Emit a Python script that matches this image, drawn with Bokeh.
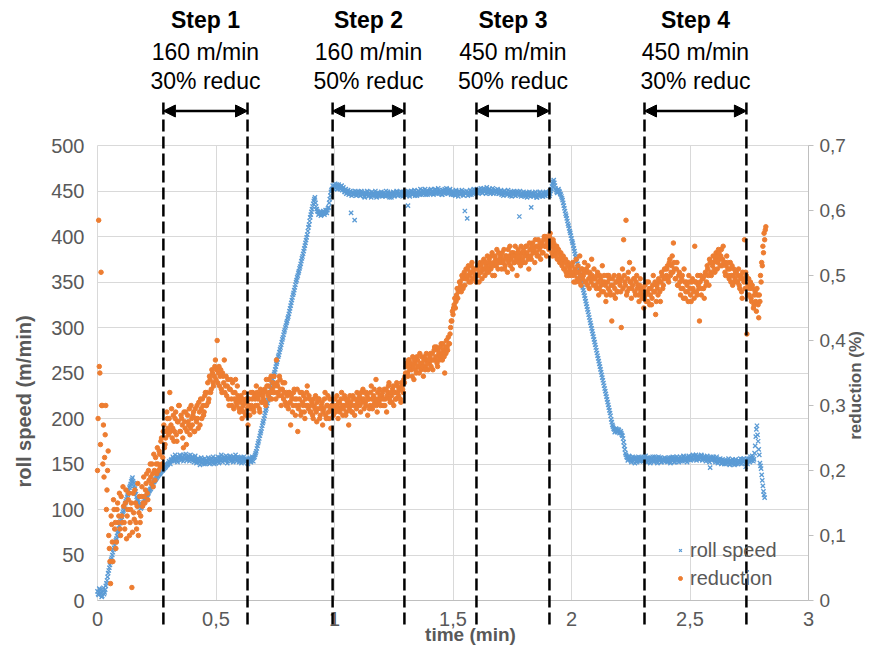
import numpy as np
from bokeh.plotting import figure
from bokeh.models import (Range1d, LinearAxis, FixedTicker, CustomJSTickFormatter,
                          Label, Arrow, NormalHead, Legend, LegendItem)
from bokeh.embed import file_html
from bokeh.resources import INLINE

DT = 0.005  # sampling interval of the recorded signals (min); second channel is offset by DT/2

roll_speed = [
    10, 6, 12, 8, 5, 14, 9, 16, 22, 30, 36, 42, 47, 53, 58, 64, 68, 74, 79, 85,
    89, 95, 99, 104, 109, 114, 118, 124, 128, 133, 131, 126, 120, 114, 110, 106, 104, 102, 105, 108,
    111, 113, 116, 118, 121, 123, 126, 128, 131, 133, 135, 137, 139, 140, 142, 143, 145, 146, 148, 149,
    151, 152, 154, 153, 156, 155, 157, 154, 158, 156, 159, 155, 157, 160, 156, 158, 155, 159, 157, 156,
    158, 154, 157, 155, 153, 156, 152, 154, 151, 155, 153, 150, 154, 152, 155, 151, 153, 156, 152, 154,
    151, 155, 153, 157, 154, 156, 155, 158, 156, 154, 157, 155, 159, 156, 154, 158, 155, 157, 154, 156,
    155, 153, 157, 154, 156, 152, 155, 150, 153, 155, 154, 156, 157, 160, 164, 170, 175, 181, 186, 192,
    197, 203, 209, 214, 220, 226, 232, 238, 243, 249, 254, 260, 265, 270, 276, 281, 287, 292, 297, 302,
    307, 312, 318, 324, 330, 336, 341, 347, 352, 357, 362, 367, 373, 378, 384, 390, 396, 402, 410, 417,
    424, 430, 436, 441, 437, 430, 427, 425, 426, 424, 425, 427, 426, 428, 429, 432, 441, 449, 452, 455,
    456, 453, 457, 454, 455, 452, 456, 453, 451, 449, 447, 450, 446, 449, 426, 448, 446, 418, 447, 449,
    446, 448, 445, 449, 447, 444, 448, 446, 449, 445, 447, 443, 446, 448, 445, 447, 444, 446, 448, 445,
    447, 445, 448, 444, 446, 449, 445, 447, 443, 446, 448, 445, 447, 449, 446, 448, 445, 447, 449, 446,
    448, 446, 434, 449, 447, 450, 446, 448, 445, 449, 447, 450, 446, 448, 451, 447, 449, 446, 450, 448,
    449, 451, 447, 450, 448, 452, 449, 447, 451, 448, 450, 446, 449, 452, 448, 450, 447, 451, 449, 448,
    446, 448, 445, 449, 447, 450, 446, 448, 449, 445, 428, 447, 420, 449, 446, 448, 450, 447, 449, 451,
    448, 450, 452, 449, 451, 448, 453, 450, 447, 451, 449, 452, 448, 450, 447, 449, 451, 448, 450, 447,
    449, 446, 448, 450, 447, 449, 446, 448, 445, 447, 449, 446, 448, 445, 447, 449, 422, 446, 448, 445,
    447, 444, 446, 448, 445, 447, 432, 446, 444, 447, 445, 443, 446, 448, 445, 447, 444, 446, 448, 447,
    446, 449, 447, 452, 458, 462, 456, 451, 448, 452, 449, 446, 442, 437, 431, 425, 420, 414, 409, 404,
    398, 393, 387, 381, 376, 370, 364, 358, 352, 347, 341, 335, 329, 323, 317, 311, 305, 299, 293, 287,
    281, 275, 269, 263, 257, 251, 245, 239, 233, 227, 221, 215, 209, 203, 196, 191, 188, 186, 188, 186,
    187, 185, 184, 181, 174, 166, 160, 157, 155, 158, 154, 156, 153, 157, 155, 152, 156, 154, 157, 153,
    155, 158, 154, 156, 152, 155, 157, 153, 156, 154, 158, 155, 153, 156, 154, 157, 152, 155, 153, 156,
    154, 152, 155, 153, 157, 154, 156, 152, 155, 158, 154, 156, 153, 157, 155, 158, 156, 154, 157, 159,
    156, 158, 155, 159, 157, 160, 156, 158, 155, 157, 159, 156, 158, 155, 157, 154, 156, 146, 158, 155,
    157, 154, 156, 153, 155, 152, 154, 151, 153, 150, 152, 154, 151, 153, 150, 152, 155, 151, 153, 150,
    152, 154, 151, 153, 155, 152, 154, 147, 156, 153, 155, 158, 154, 157, 155, 170, 188, 182, 166, 151,
    145, 132, 120, 113,
]

roll_speed_b = [
    7, 13, 9, 4, 11, 7, 12, 19, 26, 33, 39, 45, 50, 56, 61, 66, 71, 76, 82, 87,
    92, 97, 102, 107, 111, 116, 121, 126, 131, 135, 129, 123, 117, 112, 108, 103, 101, 104, 106, 110,
    112, 115, 117, 120, 122, 125, 127, 130, 132, 134, 136, 138, 139, 141, 143, 144, 146, 147, 149, 150,
    153, 150, 155, 158, 153, 160, 155, 152, 157, 160, 154, 158, 153, 156, 161, 154, 157, 153, 160, 155,
    155, 152, 159, 151, 156, 153, 149, 157, 154, 150, 156, 153, 151, 157, 150, 155, 152, 158, 150, 156,
    153, 158, 151, 155, 160, 152, 157, 154, 159, 151, 156, 158, 153, 157, 152, 156, 160, 153, 158, 152,
    157, 151, 155, 158, 153, 156, 151, 154, 157, 152, 158, 153, 158, 162, 167, 173, 178, 184, 189, 195,
    200, 206, 211, 217, 223, 229, 235, 240, 246, 251, 257, 262, 268, 273, 278, 284, 289, 295, 300, 305,
    310, 315, 321, 327, 333, 338, 344, 350, 355, 360, 365, 370, 376, 381, 387, 393, 399, 406, 413, 421,
    427, 433, 439, 443, 433, 428, 424, 427, 423, 426, 428, 424, 429, 426, 431, 437, 445, 451, 456, 452,
    458, 455, 452, 457, 453, 455, 451, 454, 449, 452, 448, 451, 447, 450, 445, 449, 447, 450, 445, 448,
    449, 445, 450, 446, 448, 443, 447, 450, 444, 448, 446, 449, 445, 447, 450, 443, 448, 445, 447, 449,
    444, 448, 446, 450, 445, 447, 443, 448, 446, 449, 444, 447, 450, 445, 448, 446, 449, 444, 447, 450,
    445, 449, 447, 444, 450, 446, 449, 451, 447, 445, 450, 448, 452, 446, 449, 447, 452, 448, 446, 450,
    447, 452, 449, 446, 451, 448, 450, 453, 447, 450, 446, 451, 448, 450, 453, 447, 449, 452, 446, 450,
    449, 446, 451, 448, 444, 449, 447, 451, 446, 449, 447, 450, 445, 448, 451, 446, 449, 452, 448, 450,
    451, 447, 449, 453, 448, 452, 449, 451, 454, 448, 452, 447, 450, 453, 449, 451, 448, 452, 447, 449,
    451, 448, 445, 450, 448, 446, 451, 447, 449, 444, 448, 450, 445, 449, 446, 448, 450, 444, 447, 449,
    446, 448, 443, 447, 449, 444, 448, 445, 447, 449, 443, 447, 445, 449, 446, 444, 448, 445, 449, 446,
    448, 445, 450, 455, 460, 459, 453, 449, 451, 450, 447, 444, 440, 434, 428, 423, 417, 412, 406, 401,
    395, 390, 384, 378, 373, 367, 361, 355, 350, 344, 338, 332, 326, 320, 314, 308, 302, 296, 290, 284,
    278, 272, 266, 260, 254, 248, 242, 236, 230, 224, 218, 212, 206, 199, 193, 189, 185, 189, 185, 188,
    184, 186, 182, 178, 170, 162, 158, 154, 159, 156, 152, 158, 155, 151, 157, 154, 158, 153, 155, 157,
    153, 156, 159, 152, 157, 154, 151, 156, 158, 152, 155, 157, 151, 158, 155, 152, 156, 154, 157, 153,
    156, 153, 157, 151, 155, 158, 152, 157, 154, 156, 152, 158, 155, 153, 159, 154, 157, 152, 155, 158,
    154, 157, 160, 155, 158, 154, 159, 155, 157, 160, 154, 158, 156, 153, 159, 155, 152, 157, 154, 158,
    155, 152, 158, 151, 154, 156, 150, 155, 152, 154, 150, 153, 156, 149, 154, 151, 153, 149, 155, 152,
    150, 153, 156, 150, 153, 156, 151, 153, 150, 156, 152, 154, 159, 153, 162, 180, 192, 175, 160, 148,
    138, 126, 116,
]

reduction = [
    0.20, 0.585, 0.35, 0.505, 0.30, 0.27, 0.22, 0.30, 0.17, 0.23, 0.08, 0.026, 0.117, 0.06, 0.14, 0.12, 0.09, 0.15, 0.13, 0.11,
    0.16, 0.12, 0.145, 0.11, 0.17, 0.13, 0.155, 0.10, 0.14, 0.02, 0.165, 0.125, 0.15, 0.11, 0.18, 0.135, 0.12, 0.16, 0.145, 0.19,
    0.15, 0.18, 0.165, 0.20, 0.14, 0.19, 0.21, 0.175, 0.20, 0.22, 0.195, 0.21, 0.23, 0.205, 0.25, 0.22, 0.27, 0.24, 0.26, 0.28,
    0.255, 0.32, 0.27, 0.25, 0.285, 0.26, 0.29, 0.245, 0.275, 0.30, 0.26, 0.28, 0.25, 0.29, 0.265, 0.24, 0.285, 0.27, 0.255, 0.30,
    0.27, 0.29, 0.26, 0.28, 0.30, 0.265, 0.29, 0.31, 0.28, 0.30, 0.29, 0.32, 0.30, 0.335, 0.31, 0.34, 0.325, 0.35, 0.33, 0.36,
    0.34, 0.40, 0.35, 0.33, 0.355, 0.32, 0.345, 0.37, 0.33, 0.315, 0.34, 0.30, 0.325, 0.31, 0.335, 0.295, 0.32, 0.305, 0.33, 0.31,
    0.29, 0.315, 0.28, 0.30, 0.32, 0.285, 0.305, 0.27, 0.31, 0.295, 0.30, 0.32, 0.29, 0.31, 0.33, 0.30, 0.315, 0.29, 0.32, 0.305,
    0.31, 0.325, 0.30, 0.33, 0.315, 0.34, 0.32, 0.31, 0.335, 0.345, 0.32, 0.37, 0.33, 0.315, 0.34, 0.30, 0.325, 0.31, 0.335, 0.30,
    0.315, 0.295, 0.32, 0.27, 0.31, 0.30, 0.325, 0.285, 0.31, 0.26, 0.30, 0.32, 0.29, 0.305, 0.315, 0.28, 0.30, 0.33, 0.295, 0.31,
    0.29, 0.305, 0.28, 0.30, 0.315, 0.275, 0.295, 0.31, 0.285, 0.30, 0.27, 0.295, 0.32, 0.28, 0.30, 0.29, 0.31, 0.265, 0.30, 0.285,
    0.30, 0.29, 0.315, 0.28, 0.305, 0.295, 0.32, 0.285, 0.30, 0.31, 0.29, 0.305, 0.27, 0.315, 0.30, 0.29, 0.31, 0.285, 0.30, 0.32,
    0.30, 0.315, 0.29, 0.31, 0.325, 0.295, 0.305, 0.32, 0.285, 0.31, 0.30, 0.33, 0.295, 0.315, 0.305, 0.34, 0.29, 0.31, 0.325, 0.30,
    0.315, 0.30, 0.325, 0.31, 0.29, 0.32, 0.335, 0.305, 0.315, 0.325, 0.30, 0.32, 0.31, 0.33, 0.315, 0.325, 0.305, 0.33, 0.32, 0.335,
    0.35, 0.365, 0.345, 0.37, 0.36, 0.355, 0.375, 0.34, 0.365, 0.35, 0.37, 0.36, 0.38, 0.355, 0.365, 0.345, 0.375, 0.36, 0.37, 0.355,
    0.365, 0.38, 0.37, 0.355, 0.385, 0.37, 0.39, 0.36, 0.38, 0.375, 0.395, 0.37, 0.385, 0.35, 0.38, 0.39, 0.405, 0.395, 0.42, 0.43,
    0.44, 0.455, 0.45, 0.47, 0.465, 0.48, 0.49, 0.475, 0.495, 0.50, 0.485, 0.51, 0.495, 0.515, 0.50, 0.49, 0.52, 0.505, 0.495, 0.51,
    0.50, 0.515, 0.49, 0.52, 0.505, 0.51, 0.525, 0.50, 0.515, 0.53, 0.505, 0.52, 0.51, 0.535, 0.515, 0.50, 0.525, 0.54, 0.51, 0.52,
    0.53, 0.51, 0.525, 0.54, 0.515, 0.53, 0.505, 0.52, 0.545, 0.525, 0.51, 0.535, 0.52, 0.53, 0.50, 0.54, 0.525, 0.515, 0.535, 0.52,
    0.535, 0.52, 0.545, 0.53, 0.51, 0.54, 0.525, 0.55, 0.535, 0.52, 0.545, 0.53, 0.555, 0.54, 0.525, 0.55, 0.535, 0.56, 0.545, 0.53,
    0.555, 0.54, 0.565, 0.545, 0.53, 0.55, 0.535, 0.545, 0.525, 0.54, 0.52, 0.535, 0.515, 0.53, 0.51, 0.525, 0.50, 0.52, 0.505, 0.515,
    0.50, 0.52, 0.49, 0.51, 0.525, 0.495, 0.505, 0.53, 0.485, 0.51, 0.50, 0.52, 0.49, 0.505, 0.515, 0.48, 0.50, 0.525, 0.495, 0.51,
    0.495, 0.48, 0.505, 0.47, 0.50, 0.485, 0.515, 0.475, 0.49, 0.46, 0.50, 0.48, 0.495, 0.47, 0.43, 0.485, 0.50, 0.465, 0.49, 0.475,
    0.50, 0.485, 0.42, 0.51, 0.555, 0.49, 0.585, 0.475, 0.505, 0.52, 0.49, 0.48, 0.51, 0.495, 0.47, 0.50, 0.485, 0.46, 0.495, 0.48,
    0.47, 0.45, 0.485, 0.46, 0.475, 0.49, 0.455, 0.48, 0.465, 0.50, 0.475, 0.44, 0.485, 0.47, 0.49, 0.46, 0.505, 0.48, 0.495, 0.51,
    0.50, 0.515, 0.49, 0.525, 0.505, 0.53, 0.55, 0.51, 0.495, 0.52, 0.485, 0.505, 0.47, 0.495, 0.48, 0.51, 0.465, 0.49, 0.475, 0.50,
    0.48, 0.46, 0.495, 0.475, 0.545, 0.49, 0.47, 0.485, 0.43, 0.50, 0.48, 0.495, 0.465, 0.505, 0.49, 0.51, 0.485, 0.52, 0.50, 0.515,
    0.52, 0.505, 0.535, 0.51, 0.54, 0.525, 0.53, 0.515, 0.545, 0.52, 0.50, 0.53, 0.51, 0.495, 0.52, 0.50, 0.485, 0.51, 0.495, 0.505,
    0.49, 0.51, 0.48, 0.50, 0.465, 0.495, 0.555, 0.505, 0.41, 0.485, 0.47, 0.49, 0.46, 0.48, 0.455, 0.475, 0.445, 0.47, 0.435, 0.46,
    0.49, 0.515, 0.535, 0.555, 0.575,
]

reduction_b = [
    0.28, 0.36, 0.24, 0.30, 0.21, 0.19, 0.255, 0.14, 0.20, 0.10, 0.06, 0.13, 0.09, 0.155, 0.11, 0.08, 0.14, 0.12, 0.165, 0.10,
    0.13, 0.175, 0.12, 0.15, 0.095, 0.14, 0.165, 0.12, 0.15, 0.105, 0.135, 0.17, 0.12, 0.145, 0.10, 0.16, 0.13, 0.175, 0.15, 0.16,
    0.17, 0.195, 0.155, 0.185, 0.21, 0.18, 0.195, 0.225, 0.185, 0.21, 0.235, 0.20, 0.225, 0.245, 0.21, 0.26, 0.235, 0.25, 0.29, 0.265,
    0.28, 0.26, 0.295, 0.265, 0.245, 0.28, 0.255, 0.275, 0.30, 0.26, 0.285, 0.27, 0.235, 0.275, 0.29, 0.26, 0.275, 0.295, 0.265, 0.28,
    0.285, 0.26, 0.295, 0.275, 0.28, 0.305, 0.27, 0.295, 0.31, 0.285, 0.315, 0.30, 0.32, 0.305, 0.345, 0.32, 0.355, 0.335, 0.345, 0.37,
    0.355, 0.335, 0.36, 0.345, 0.325, 0.35, 0.335, 0.32, 0.345, 0.33, 0.31, 0.325, 0.34, 0.30, 0.32, 0.31, 0.34, 0.30, 0.315, 0.295,
    0.305, 0.295, 0.31, 0.29, 0.305, 0.31, 0.295, 0.30, 0.285, 0.32, 0.31, 0.295, 0.315, 0.30, 0.32, 0.31, 0.295, 0.325, 0.305, 0.315,
    0.32, 0.305, 0.34, 0.32, 0.33, 0.31, 0.345, 0.325, 0.32, 0.33, 0.31, 0.335, 0.32, 0.345, 0.325, 0.315, 0.335, 0.32, 0.305, 0.32,
    0.30, 0.32, 0.305, 0.315, 0.29, 0.32, 0.31, 0.30, 0.325, 0.295, 0.31, 0.285, 0.32, 0.30, 0.29, 0.31, 0.32, 0.30, 0.315, 0.29,
    0.30, 0.285, 0.31, 0.295, 0.29, 0.305, 0.31, 0.28, 0.295, 0.305, 0.29, 0.31, 0.285, 0.30, 0.315, 0.28, 0.295, 0.30, 0.31, 0.29,
    0.31, 0.295, 0.30, 0.305, 0.29, 0.31, 0.30, 0.295, 0.315, 0.285, 0.30, 0.31, 0.295, 0.305, 0.29, 0.315, 0.30, 0.31, 0.295, 0.305,
    0.31, 0.30, 0.32, 0.305, 0.31, 0.32, 0.30, 0.315, 0.31, 0.295, 0.32, 0.31, 0.30, 0.325, 0.31, 0.30, 0.32, 0.305, 0.315, 0.31,
    0.32, 0.31, 0.30, 0.325, 0.315, 0.33, 0.31, 0.32, 0.305, 0.33, 0.32, 0.31, 0.335, 0.32, 0.325, 0.31, 0.335, 0.325, 0.34, 0.345,
    0.36, 0.35, 0.37, 0.355, 0.365, 0.345, 0.36, 0.37, 0.355, 0.375, 0.36, 0.35, 0.365, 0.375, 0.36, 0.37, 0.355, 0.38, 0.365, 0.37,
    0.375, 0.36, 0.38, 0.37, 0.39, 0.375, 0.365, 0.385, 0.37, 0.39, 0.38, 0.395, 0.375, 0.39, 0.40, 0.385, 0.395, 0.41, 0.43, 0.445,
    0.45, 0.465, 0.46, 0.48, 0.475, 0.49, 0.485, 0.50, 0.48, 0.505, 0.495, 0.50, 0.51, 0.49, 0.505, 0.515, 0.495, 0.51, 0.50, 0.49,
    0.51, 0.50, 0.505, 0.515, 0.495, 0.52, 0.51, 0.52, 0.505, 0.51, 0.525, 0.515, 0.53, 0.50, 0.52, 0.53, 0.515, 0.52, 0.535, 0.525,
    0.52, 0.535, 0.52, 0.51, 0.53, 0.525, 0.54, 0.53, 0.515, 0.535, 0.53, 0.52, 0.545, 0.525, 0.535, 0.52, 0.53, 0.545, 0.525, 0.54,
    0.53, 0.545, 0.535, 0.525, 0.55, 0.53, 0.545, 0.535, 0.54, 0.555, 0.535, 0.545, 0.53, 0.55, 0.545, 0.535, 0.555, 0.545, 0.56, 0.55,
    0.545, 0.56, 0.55, 0.535, 0.555, 0.54, 0.53, 0.545, 0.535, 0.525, 0.53, 0.52, 0.525, 0.51, 0.52, 0.505, 0.515, 0.50, 0.51, 0.505,
    0.515, 0.505, 0.50, 0.49, 0.505, 0.515, 0.49, 0.50, 0.51, 0.495, 0.505, 0.49, 0.51, 0.485, 0.495, 0.505, 0.49, 0.50, 0.485, 0.495,
    0.485, 0.50, 0.49, 0.48, 0.495, 0.475, 0.49, 0.50, 0.485, 0.47, 0.49, 0.50, 0.475, 0.485, 0.495, 0.47, 0.48, 0.49, 0.475, 0.495,
    0.49, 0.475, 0.495, 0.48, 0.50, 0.485, 0.47, 0.495, 0.48, 0.49, 0.465, 0.485, 0.495, 0.475, 0.49, 0.48, 0.47, 0.485, 0.475, 0.465,
    0.48, 0.465, 0.47, 0.49, 0.46, 0.48, 0.47, 0.455, 0.485, 0.475, 0.49, 0.46, 0.48, 0.495, 0.475, 0.49, 0.50, 0.485, 0.51, 0.495,
    0.51, 0.495, 0.52, 0.50, 0.515, 0.505, 0.52, 0.495, 0.51, 0.485, 0.50, 0.49, 0.48, 0.50, 0.465, 0.49, 0.475, 0.485, 0.46, 0.49,
    0.47, 0.49, 0.48, 0.465, 0.49, 0.475, 0.50, 0.48, 0.49, 0.47, 0.495, 0.48, 0.50, 0.485, 0.515, 0.50, 0.525, 0.505, 0.52, 0.53,
    0.51, 0.525, 0.53, 0.52, 0.535, 0.515, 0.54, 0.525, 0.52, 0.505, 0.515, 0.52, 0.50, 0.51, 0.49, 0.515, 0.50, 0.49, 0.505, 0.49,
    0.50, 0.485, 0.495, 0.475, 0.505, 0.49, 0.48, 0.50, 0.47, 0.495, 0.48, 0.465, 0.485, 0.45, 0.47, 0.46, 0.48, 0.455, 0.47, 0.50,
    0.52, 0.545, 0.565, 0.57,
]

step_start = [0.278, 0.992, 1.599, 2.308]
step_end = [0.633, 1.295, 1.907, 2.738]
step_titles = ["Step 1", "Step 2", "Step 3", "Step 4"]
step_speed = ["160 m/min", "160 m/min", "450 m/min", "450 m/min"]
step_reduc = ["30% reduc", "50% reduc", "50% reduc", "30% reduc"]

x_ticks = [0, 0.5, 1, 1.5, 2, 2.5, 3]
left_ticks = [0, 50, 100, 150, 200, 250, 300, 350, 400, 450, 500]
right_ticks = [0, 0.1, 0.2, 0.3, 0.4, 0.5, 0.6, 0.7]

BLUE = "#5B9BD5"
ORANGE = "#ED7D31"
GREY = "#595959"
GRID = "#d9d9d9"
AXIS = "#bfbfbf"
FONT = "Liberation Sans"

# canvas geometry: plot area 0..3 x 0..500 sits at px 97..808 x 600..145
W, H = 865, 645
PX_X = 711 / 3.0
PX_Y = 455 / 500.0
X0, Y0 = 97, 600
x_lo, x_hi = -X0 / PX_X, (W - X0) / PX_X
y_lo, y_hi = -(H - Y0) / PX_Y, Y0 / PX_Y
R = 0.7 / 500.0

t_speed = np.concatenate([np.arange(len(roll_speed)) * DT, np.arange(len(roll_speed_b)) * DT + DT / 2])
v_speed = list(roll_speed) + list(roll_speed_b)
t_red = np.concatenate([np.arange(len(reduction)) * DT, np.arange(len(reduction_b)) * DT + DT / 2])
v_red = list(reduction) + list(reduction_b)

p = figure(width=W, height=H, output_backend="svg", toolbar_location=None,
           x_range=Range1d(x_lo, x_hi), y_range=Range1d(y_lo, y_hi), min_border=0)
p.min_border_left = p.min_border_right = p.min_border_top = p.min_border_bottom = 0
p.outline_line_color = None
p.background_fill_color = "white"
p.border_fill_color = "white"
p.extra_y_ranges = {"red": Range1d(y_lo * R, y_hi * R)}

comma_fmt = CustomJSTickFormatter(code="return tick.toString().replace('.', ',');")

xa = p.xaxis[0]
xa.fixed_location = 0
xa.bounds = (0, 3)
xa.ticker = FixedTicker(ticks=x_ticks)
xa.formatter = comma_fmt
xa.major_tick_out = 0
xa.major_tick_in = 0
xa.major_tick_line_color = None
xa.minor_tick_line_color = None
xa.axis_line_color = AXIS
xa.major_label_text_font = FONT
xa.major_label_text_font_size = "20px"
xa.major_label_text_color = GREY
xa.major_label_standoff = 11

ya = p.yaxis[0]
ya.fixed_location = 0
ya.bounds = (0, 500)
ya.ticker = FixedTicker(ticks=left_ticks)
ya.major_tick_out = 0
ya.major_tick_in = 0
ya.major_tick_line_color = None
ya.minor_tick_line_color = None
ya.axis_line_color = None
ya.major_label_text_font = FONT
ya.major_label_text_font_size = "20px"
ya.major_label_text_color = GREY
ya.major_label_standoff = 13

ra = LinearAxis(y_range_name="red", ticker=FixedTicker(ticks=right_ticks), formatter=comma_fmt)
ra.fixed_location = 3
ra.bounds = (0, 0.7)
ra.major_tick_out = 5
ra.major_tick_in = 0
ra.major_tick_line_color = AXIS
ra.minor_tick_line_color = None
ra.axis_line_color = AXIS
ra.major_label_text_font = FONT
ra.major_label_text_font_size = "19px"
ra.major_label_text_color = GREY
ra.major_label_standoff = 6
p.add_layout(ra, "right")

p.xgrid.grid_line_color = GRID
p.ygrid.grid_line_color = GRID
try:
    p.xgrid.cross_bounds = (0, 500)
    p.ygrid.cross_bounds = (0, 3)
except Exception:
    p.xgrid.visible = False
    p.ygrid.visible = False
    p.segment(x0=x_ticks, y0=[0] * len(x_ticks), x1=x_ticks, y1=[500] * len(x_ticks),
              line_color=GRID, line_width=1, level="underlay")
    p.segment(x0=[0] * len(left_ticks), y0=left_ticks, x1=[3] * len(left_ticks), y1=left_ticks,
              line_color=GRID, line_width=1, level="underlay")

r_speed = p.scatter(t_speed, v_speed, marker="x", size=6, line_color=BLUE, line_width=1.3)
r_red = p.scatter(t_red, v_red, y_range_name="red", marker="circle", size=4.5,
                  fill_color=ORANGE, line_color=ORANGE)

legend = Legend(items=[LegendItem(label="roll speed", renderers=[r_speed]),
                       LegendItem(label="reduction", renderers=[r_red])],
                location=(675, 53), padding=0, margin=0, spacing=0,
                label_height=28, glyph_height=28, glyph_width=10, label_standoff=5,
                label_text_font=FONT, label_text_font_size="20px", label_text_color=GREY,
                background_fill_alpha=0, border_line_alpha=0)
p.add_layout(legend)

def ypx(py):
    """reference pixel row -> left-axis data value"""
    return (Y0 - py) / PX_Y

def xpx(px):
    return (px - X0) / PX_X

for xs, xe, tt, ts, tr in zip(step_start, step_end, step_titles, step_speed, step_reduc):
    for xv in (xs, xe):
        p.add_layout(Arrow(x_start=xv, x_end=xv, y_start=ypx(102), y_end=ypx(628),
                           start=None, end=None, line_color="black", line_width=2.5,
                           line_dash="12 5"))
    p.add_layout(Arrow(x_start=xs, x_end=xe, y_start=ypx(110.5), y_end=ypx(110.5),
                       start=NormalHead(size=12, fill_color="black", line_color="black"),
                       end=NormalHead(size=12, fill_color="black", line_color="black"),
                       line_color="black", line_width=2.5))
    xc = (xs + xe) / 2
    p.add_layout(Label(x=xc, y=ypx(19), text=tt, text_align="center", text_baseline="middle",
                       text_font=FONT, text_font_size="23px", text_font_style="bold",
                       text_color="black"))
    p.add_layout(Label(x=xc, y=ypx(51), text=ts, text_align="center", text_baseline="middle",
                       text_font=FONT, text_font_size="23px", text_color="black"))
    p.add_layout(Label(x=xc, y=ypx(80), text=tr, text_align="center", text_baseline="middle",
                       text_font=FONT, text_font_size="23px", text_color="black"))

p.add_layout(Label(x=xpx(23), y=ypx(401), text="roll speed (m/min)", angle=np.pi / 2,
                   text_align="center", text_baseline="middle", text_font=FONT,
                   text_font_size="20px", text_font_style="bold", text_color=GREY))
p.add_layout(Label(x=xpx(855), y=ypx(385), text="reduction (%)", angle=np.pi / 2,
                   text_align="center", text_baseline="middle", text_font=FONT,
                   text_font_size="17px", text_font_style="bold", text_color=GREY))
p.add_layout(Label(x=xpx(470), y=ypx(634), text="time (min)",
                   text_align="center", text_baseline="middle", text_font=FONT,
                   text_font_size="19px", text_font_style="bold", text_color=GREY))

open("out.html", "w").write(file_html(p, INLINE))
